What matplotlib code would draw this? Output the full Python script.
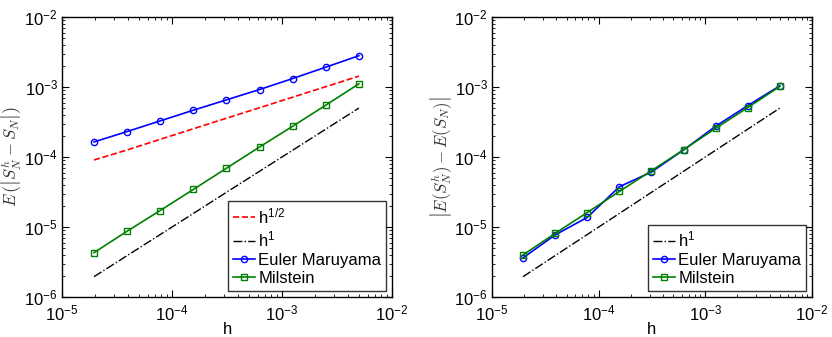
import numpy as np
import matplotlib
matplotlib.use("Agg")
import matplotlib.pyplot as plt
from matplotlib.ticker import LogLocator, NullFormatter

plt.rcParams['font.family'] = ['Liberation Sans', 'DejaVu Sans']
plt.rcParams['mathtext.fontset'] = 'cm'

h = [1.953e-5, 3.906e-5, 7.8125e-5, 1.5625e-4, 3.125e-4, 6.25e-4, 1.25e-3, 2.5e-3, 5e-3]

strong_em = [1.64e-4, 2.31e-4, 3.28e-4, 4.66e-4, 6.55e-4, 9.2e-4, 1.32e-3, 1.92e-3, 2.8e-3]
strong_mil = [4.3e-6, 8.7e-6, 1.72e-5, 3.44e-5, 6.9e-5, 1.39e-4, 2.75e-4, 5.5e-4, 1.11e-3]
ref_half = [9.06e-5, 1.26e-4, 1.79e-4, 2.53e-4, 3.58e-4, 5.06e-4, 7.15e-4, 1.01e-3, 1.43e-3]
ref_one = [1.95e-6, 3.9e-6, 7.8e-6, 1.56e-5, 3.13e-5, 6.25e-5, 1.25e-4, 2.5e-4, 5.0e-4]

weak_em = [3.62e-6, 7.7e-6, 1.37e-5, 3.76e-5, 6.1e-5, 1.26e-4, 2.75e-4, 5.43e-4, 1.04e-3]
weak_mil = [3.99e-6, 8.1e-6, 1.61e-5, 3.22e-5, 6.37e-5, 1.27e-4, 2.57e-4, 5.08e-4, 1.02e-3]

blue = (0, 0, 1)
green = (0, 0.5, 0)

fig = plt.figure(figsize=(8.32, 3.37), dpi=100)
ax1 = fig.add_axes([62/832, 1-297/337, 330/832, 280/337])
ax2 = fig.add_axes([492/832, 1-297/337, 320/832, 280/337])

ax1.loglog(h, ref_half, '--', color='red', lw=1.2, label=r'h$^{\mathregular{1/2}}$')
ax1.loglog(h, ref_one, '-.', color='black', lw=1.0, label=r'h$^{\mathregular{1}}$')
ax1.loglog(h, strong_em, '-o', color=blue, lw=1.2, ms=4.5, mfc='none', mew=1.0, label='Euler Maruyama')
ax1.loglog(h, strong_mil, '-s', color=green, lw=1.2, ms=3.8, mfc='none', mew=1.0, label='Milstein')
ax1.set_ylabel(r'$E\,\left(\left|S_N^h - S_N\right|\right)$', fontsize=12, color='#333333')
ax1.yaxis.set_label_coords(-0.118, 0.5)

ax2.loglog(h, ref_one, '-.', color='black', lw=1.0, label=r'h$^{\mathregular{1}}$')
ax2.loglog(h, weak_em, '-o', color=blue, lw=1.2, ms=4.5, mfc='none', mew=1.0, label='Euler Maruyama')
ax2.loglog(h, weak_mil, '-s', color=green, lw=1.2, ms=3.8, mfc='none', mew=1.0, label='Milstein')
ax2.set_ylabel(r'$\left|E(S_N^h) - E(S_N)\right|$', fontsize=12, color='#333333')
ax2.yaxis.set_label_coords(-0.12, 0.5)

for ax in (ax1, ax2):
    ax.set_xlim(1e-5, 1e-2)
    ax.set_ylim(1e-6, 1e-2)
    ax.set_xlabel('h', fontsize=12, labelpad=-1)
    ax.xaxis.set_major_locator(LogLocator(base=10, numticks=10))
    ax.yaxis.set_major_locator(LogLocator(base=10, numticks=10))
    ax.xaxis.set_minor_locator(LogLocator(base=10, subs=np.arange(2, 10), numticks=20))
    ax.yaxis.set_minor_locator(LogLocator(base=10, subs=np.arange(2, 10), numticks=20))
    ax.xaxis.set_minor_formatter(NullFormatter())
    ax.yaxis.set_minor_formatter(NullFormatter())
    ax.tick_params(which='both', direction='in', top=True, right=True, labelsize=12)
    ax.tick_params(axis='x', which='major', pad=5)
    ax.tick_params(axis='y', which='major', pad=3)
    ax.tick_params(which='major', length=5, width=0.8)
    ax.tick_params(which='minor', length=2.5, width=0.6)
    for s in ax.spines.values():
        s.set_linewidth(1.0)
    leg = ax.legend(loc='lower right', fontsize=12, frameon=True, fancybox=False,
                    handlelength=1.3, handletextpad=0.2, borderpad=0.3,
                    labelspacing=0.2, borderaxespad=0.35)
    leg.get_frame().set_edgecolor('black')
    leg.get_frame().set_linewidth(1.0)

fig.savefig('out.png', dpi=100)
